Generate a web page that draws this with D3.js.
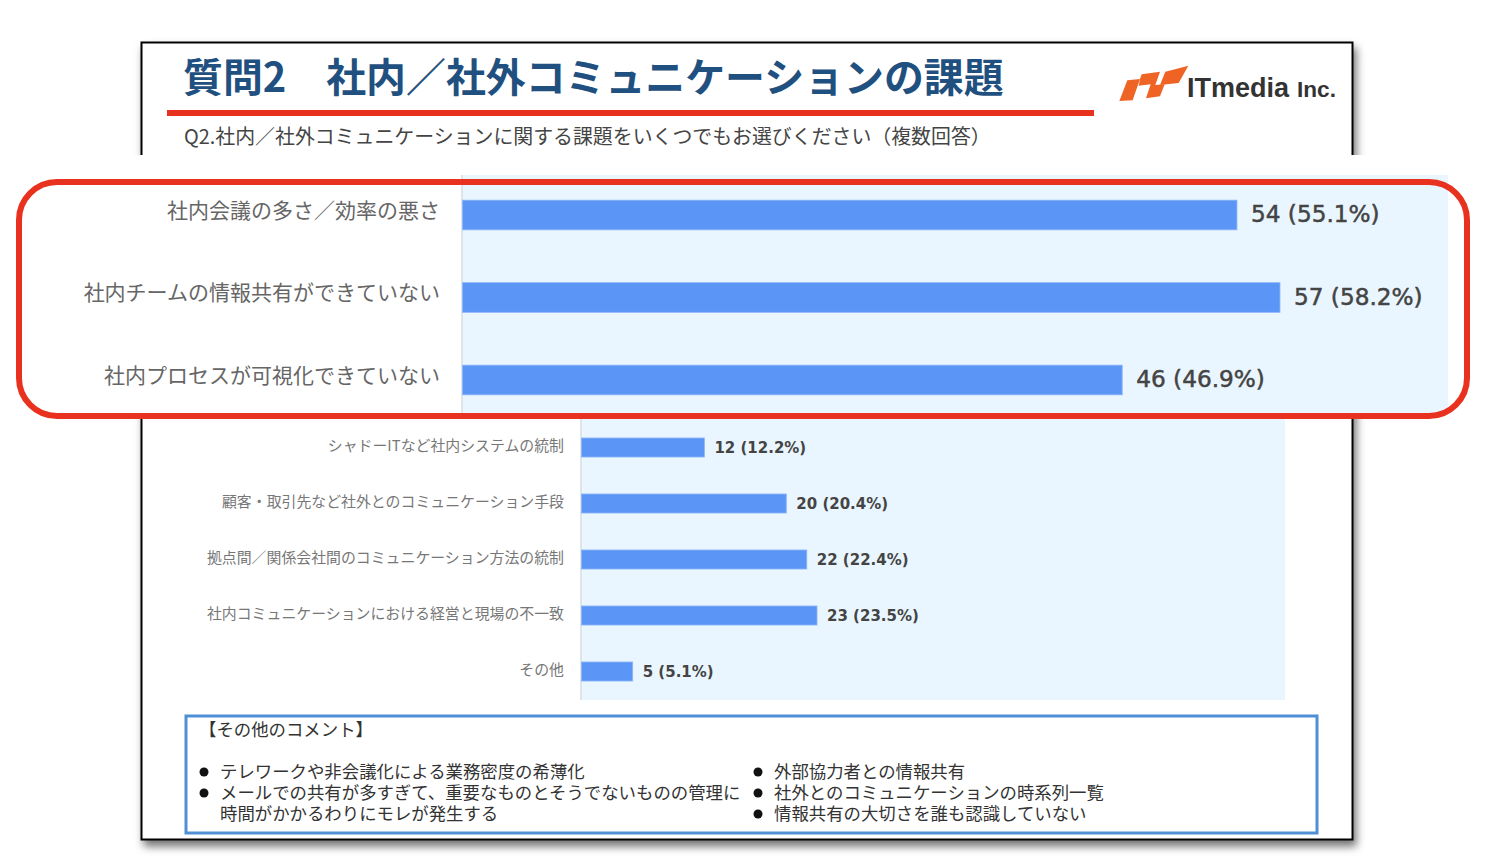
<!DOCTYPE html>
<html lang="ja">
<head>
<meta charset="utf-8">
<title>質問2 社内／社外コミュニケーションの課題</title>
<script src="https://cdnjs.cloudflare.com/ajax/libs/d3/7.8.5/d3.min.js"></script>
<style>
  html, body { margin: 0; padding: 0; background: #fff; }
  svg { display: block; }
  text { font-family: "Noto Sans CJK JP", sans-serif; }
  .value { font-family: "DejaVu Sans", sans-serif; }
  .domain { display: none; }
</style>
</head>
<body>
<div id="chart"></div>
<script>
// 拡大表示される上位3項目
const topCategories = ["社内会議の多さ／効率の悪さ", "社内チームの情報共有ができていない", "社内プロセスが可視化できていない"];
const topCounts = [54, 57, 46];
const topPercents = [55.1, 58.2, 46.9];

// 残りの項目
const restCategories = [
  "シャドーITなど社内システムの統制",
  "顧客・取引先など社外とのコミュニケーション手段",
  "拠点間／関係会社間のコミュニケーション方法の統制",
  "社内コミュニケーションにおける経営と現場の不一致",
  "その他"
];
const restCounts = [12, 20, 22, 23, 5];
const restPercents = [12.2, 20.4, 22.4, 23.5, 5.1];

const axisMax = 68.75;

const titleText = "質問2　社内／社外コミュニケーションの課題";
const questionText = "Q2.社内／社外コミュニケーションに関する課題をいくつでもお選びください（複数回答）";
const commentTitle = "【その他のコメント】";
const commentsLeft = ["テレワークや非会議化による業務密度の希薄化", "メールでの共有が多すぎて、重要なものとそうでないものの管理に"];
const commentsLeftCont = "時間がかかるわりにモレが発生する";
const commentsRight = ["外部協力者との情報共有", "社外とのコミュニケーションの時系列一覧", "情報共有の大切さを誰も認識していない"];

const svg = d3.select("#chart").append("svg").attr("width", 1506).attr("height", 865);

// スライドの影
const shadow = svg.append("defs").append("filter").attr("id", "shadow")
  .attr("x", "-5%").attr("y", "-5%").attr("width", "110%").attr("height", "110%");
shadow.append("feDropShadow").attr("dx", 3).attr("dy", 6).attr("stdDeviation", 4)
  .attr("flood-color", "#000").attr("flood-opacity", 0.55);

svg.append("rect").attr("x", 141.5).attr("y", 42.5).attr("width", 1211).attr("height", 797)
  .attr("fill", "#fff").attr("stroke", "#000").attr("stroke-width", 2).attr("filter", "url(#shadow)");

svg.append("text").attr("x", 183).attr("y", 92).attr("font-size", 39.9).attr("font-weight", 700)
  .attr("fill", "#1f5080").text(titleText);
svg.append("rect").attr("x", 167).attr("y", 110).attr("width", 927).attr("height", 6).attr("fill", "#e8321f");
svg.append("text").attr("x", 184).attr("y", 144).attr("font-size", 19.9)
  .attr("fill", "#444").text(questionText);

// ロゴ
const logo = svg.append("g").attr("fill", "#ef6425").attr("transform", "translate(1110,55) scale(0.3333)");
logo.append("path").attr("d", "M28,138 L52,76 L90,72 L68,136 Z");
logo.append("path").attr("d", "M90,72 L95,58 L150,50 L136,90 L164,88 L150,124 L108,130 L122,88 L86,92 Z");
logo.append("path").attr("d", "M166,50 L235,32 L206,84 L150,90 Z");
const logoText = svg.append("text").attr("x", 1187).attr("y", 97).attr("fill", "#333")
  .style("font-family", '"Liberation Sans", sans-serif').attr("font-weight", 700);
logoText.append("tspan").attr("font-size", 27).text("ITmedia");
logoText.append("tspan").attr("x", 1297).attr("font-size", 22.6).text("Inc.");

function drawPanel(o) {
  const g = svg.append("g");
  const x = d3.scaleLinear().domain([0, axisMax]).range([o.left, o.right]);
  const y = d3.scaleBand().domain(o.categories).range([o.top, o.bottom])
    .paddingInner(o.padInner).paddingOuter(o.padInner / 2);

  g.append("rect").attr("x", o.left).attr("y", o.panelTop).attr("width", o.right - o.left)
    .attr("height", o.panelBottom - o.panelTop).attr("fill", "#eaf6ff");
  g.append("line").attr("x1", o.left).attr("x2", o.left).attr("y1", o.panelTop).attr("y2", o.panelBottom)
    .attr("stroke", "#d8dcdf").attr("stroke-width", 1.5);

  const axis = g.append("g").attr("transform", `translate(${o.left},0)`)
    .call(d3.axisLeft(y).tickSize(0).tickPadding(o.tickPad));
  axis.selectAll("text")
    .attr("font-family", '"Noto Sans CJK JP", sans-serif')
    .attr("font-size", o.labelSize).attr("fill", o.labelColor).attr("dy", o.labelDy);

  g.selectAll(".bar").data(o.categories).join("rect").attr("class", "bar")
    .attr("x", x(0) + 0.5)
    .attr("y", d => y(d))
    .attr("width", (d, i) => x(o.counts[i]) - x(0))
    .attr("height", y.bandwidth())
    .attr("fill", "#5b96f7").attr("stroke", "#8db6f5").attr("stroke-width", 0.8);

  g.selectAll(".value").data(o.categories).join("text").attr("class", "value")
    .attr("x", (d, i) => x(o.counts[i]) + o.valuePad)
    .attr("y", d => y(d) + y.bandwidth() / 2)
    .attr("dy", o.valueDy)
    .attr("font-size", o.valueSize).attr("font-weight", o.valueWeight)
    .attr("fill", "#444").attr("stroke", "#444").attr("stroke-width", o.valueStroke)
    .text((d, i) => `${o.counts[i]} (${o.percents[i]}%)`);
}

// 下段のグラフ
drawPanel({
  categories: restCategories, counts: restCounts, percents: restPercents,
  left: 581, right: 1285, top: 419.5, bottom: 699.5, padInner: 0.66,
  panelTop: 415, panelBottom: 700, tickPad: 17, labelSize: 14.9, labelColor: "#777", labelDy: "0.24em",
  valuePad: 10.5, valueSize: 15, valueWeight: 700, valueStroke: 0, valueDy: "0.36em"
});

// 拡大部分の下地
svg.append("rect").attr("x", 0).attr("y", 155).attr("width", 1506).attr("height", 262).attr("fill", "#fff");

// 拡大された上段のグラフ
drawPanel({
  categories: topCategories, counts: topCounts, percents: topPercents,
  left: 462, right: 1448, top: 173.75, bottom: 421.25, padInner: 0.64,
  panelTop: 175, panelBottom: 415, tickPad: 22, labelSize: 21, labelColor: "#666", labelDy: "0.14em",
  valuePad: 14.5, valueSize: 23.2, valueWeight: 400, valueStroke: 0.5, valueDy: "0.32em"
});

// 赤い枠
svg.append("rect").attr("x", 19).attr("y", 182).attr("width", 1448).attr("height", 234).attr("rx", 38)
  .attr("fill", "none").attr("stroke", "#e8321f").attr("stroke-width", 6);

// コメント欄
svg.append("rect").attr("x", 186).attr("y", 716).attr("width", 1131).attr("height", 117)
  .attr("fill", "#fff").attr("stroke", "#4f8fd6").attr("stroke-width", 3);

const comments = svg.append("g").attr("font-size", 17.4).attr("fill", "#333");
comments.append("text").attr("x", 199).attr("y", 736).text(commentTitle);

const leftRows = [772, 793];
const rightRows = [772, 793, 814];
comments.selectAll(".left").data(commentsLeft).join("text").attr("class", "left")
  .attr("x", 220).attr("y", (d, i) => leftRows[i] + 6).text(d => d);
comments.append("text").attr("x", 220).attr("y", 820).text(commentsLeftCont);
comments.selectAll(".right").data(commentsRight).join("text").attr("class", "right")
  .attr("x", 774).attr("y", (d, i) => rightRows[i] + 6).text(d => d);
comments.selectAll(".bulletL").data(leftRows).join("circle").attr("class", "bulletL")
  .attr("cx", 204).attr("cy", d => d).attr("r", 4.5).attr("fill", "#111");
comments.selectAll(".bulletR").data(rightRows).join("circle").attr("class", "bulletR")
  .attr("cx", 758).attr("cy", d => d).attr("r", 4.5).attr("fill", "#111");
</script>
</body>
</html>
